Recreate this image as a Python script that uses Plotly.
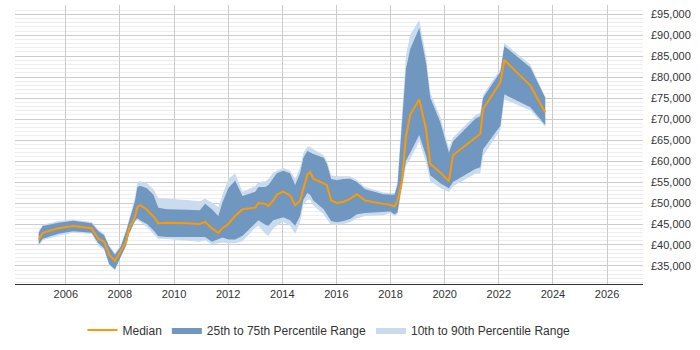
import plotly.graph_objects as go

dates = ["2005-01-01", "2005-02-24", "2005-09-24", "2006-04-12", "2006-12-16", "2007-03-17",
         "2007-06-02", "2007-08-11", "2007-10-27", "2008-01-12", "2008-03-25", "2008-05-04",
         "2008-07-23", "2008-08-25", "2008-10-01", "2009-01-01", "2009-03-29", "2009-06-03",
         "2009-09-24", "2010-06-20", "2010-12-16", "2011-02-24", "2011-05-27", "2011-08-22",
         "2011-10-16", "2012-01-05", "2012-04-05", "2012-07-13", "2013-01-01", "2013-02-14",
         "2013-05-16", "2013-06-28", "2013-09-02", "2013-10-19", "2014-01-15", "2014-04-16",
         "2014-06-24", "2014-08-29", "2014-10-13", "2014-12-06", "2015-01-12", "2015-02-24",
         "2015-07-13", "2015-08-25", "2015-10-23", "2016-01-08", "2016-04-05", "2016-07-05",
         "2016-10-05", "2017-01-23", "2017-09-27", "2017-12-28", "2018-02-24", "2018-04-05",
         "2018-06-03", "2018-07-28", "2018-09-24", "2019-01-23", "2019-04-27", "2019-06-21",
         "2019-11-03", "2020-02-28", "2020-04-23", "2021-02-17", "2021-04-27", "2021-06-03",
         "2022-01-23", "2022-03-17", "2023-03-03", "2023-09-20"]

median = [41300, 42900, 44000, 44500, 44000, 41500, 40800, 37700, 36200, 38500, 40800, 43900,
          46700, 49100, 49500, 48400, 46800, 45200, 45300, 45200, 45000, 45500, 44000, 42900,
          44000, 45000, 46900, 48500, 48900, 50000, 49800, 49300, 50600, 52000, 52700, 51800,
          49500, 50600, 53500, 56800, 57400, 55800, 54700, 54300, 50600, 50000, 50300, 51000,
          52100, 50600, 49800, 49600, 49200, 50600, 55000, 65800, 71100, 74700, 67400, 59300,
          57300, 55200, 61400, 65500, 66500, 72400, 78800, 84100, 78000, 71600]

p75 = [42900, 44500, 45300, 45800, 45200, 43300, 42300, 39600, 37700, 39600, 43200, 45800,
       50400, 53800, 54100, 53500, 52000, 48900, 48500, 48400, 48300, 49800, 48500, 46900,
       50100, 53600, 55300, 51700, 52700, 53800, 53800, 54300, 56100, 57100, 57700, 57100,
       54300, 57100, 60800, 62400, 62100, 61700, 60800, 59400, 55700, 55400, 55700, 55800,
       55000, 53300, 52100, 52000, 52000, 54300, 68200, 82000, 86700, 91700, 83200, 75100,
       69300, 62000, 64700, 70100, 70700, 75100, 81300, 87400, 82300, 75100]

p25 = [40200, 41500, 42700, 43300, 42900, 40400, 39200, 35400, 34200, 37300, 39900, 42700,
       45800, 46400, 45900, 45000, 43500, 42100, 41900, 41900, 41900, 41900, 40800, 41300,
       41800, 41300, 41300, 42200, 45200, 45900, 44800, 44600, 45900, 46200, 46600, 45900,
       44600, 46900, 50800, 52400, 52000, 50600, 48500, 47300, 45700, 45400, 45700, 46200,
       47300, 47600, 47800, 48000, 47300, 47800, 54300, 60100, 62000, 66200, 61200, 56600,
       54700, 53500, 55000, 58100, 58500, 62800, 68400, 75900, 72800, 68600]

p90 = [43400, 44800, 45700, 46000, 45500, 43700, 42700, 39900, 38100, 39900, 43600, 46200,
       51300, 55000, 55200, 54700, 53300, 51200, 51000, 50700, 50400, 51000, 50100, 49000,
       52000, 55700, 57100, 52700, 54000, 55000, 55200, 55700, 57300, 57700, 58400, 57700,
       55700, 58400, 61900, 63500, 63400, 62800, 61400, 60100, 56600, 56400, 56400, 56400,
       55400, 53800, 52500, 52400, 52400, 55400, 70500, 85100, 90100, 93600, 84800, 76300,
       70500, 63100, 65600, 70900, 71600, 75800, 82000, 88100, 83000, 75300]

p10 = [39700, 41100, 42200, 42900, 42600, 39800, 38800, 35100, 34000, 37200, 39700, 42500,
       45500, 45900, 45500, 44300, 42700, 41500, 41400, 41100, 40800, 41100, 40200, 40400,
       40600, 40400, 40400, 40900, 44100, 44600, 42700, 42200, 43900, 44600, 45500, 44600,
       42700, 45500, 49600, 50800, 50800, 49400, 47300, 46200, 44800, 44800, 45000, 45400,
       46400, 46900, 47100, 47600, 46900, 47300, 53100, 58900, 60500, 64700, 59600, 55200,
       53600, 52600, 54000, 57000, 57100, 61200, 67500, 74700, 72100, 68200]

LIGHT = "#c9dbed"
DARK = "#7097bf"
ORANGE = "#ff9900"

fig = go.Figure()
fig.add_trace(go.Scatter(x=dates, y=p10, mode="lines", line=dict(width=0, color=LIGHT),
                         showlegend=False, hoverinfo="skip"))
fig.add_trace(go.Scatter(x=dates, y=p90, mode="lines", line=dict(width=0, color=LIGHT),
                         fill="tonexty", fillcolor=LIGHT, name="10th to 90th Percentile Range",
                         legendrank=3))
fig.add_trace(go.Scatter(x=dates, y=p25, mode="lines", line=dict(width=0, color=DARK),
                         showlegend=False, hoverinfo="skip"))
fig.add_trace(go.Scatter(x=dates, y=p75, mode="lines", line=dict(width=0, color=DARK),
                         fill="tonexty", fillcolor=DARK, name="25th to 75th Percentile Range",
                         legendrank=2))
fig.add_trace(go.Scatter(x=dates, y=median, mode="lines", line=dict(width=2, color=ORANGE),
                         name="Median", legendrank=1))

fig.update_layout(
    width=700, height=350,
    margin=dict(l=15, r=57, t=5, b=58),
    paper_bgcolor="white", plot_bgcolor="white",
    font=dict(family="Liberation Sans, Arial, sans-serif", size=11, color="#333333"),
    legend=dict(orientation="h", x=0.5, xanchor="center", y=-0.165, yanchor="middle",
                font=dict(size=12, color="#333333"), traceorder="normal",
                itemwidth=30),
    showlegend=True,
)
fig.update_xaxes(
    type="date", range=["2004-02-16", "2027-05-01"],
    dtick="M24", tick0="2006-01-01", tickformat="%Y",
    showgrid=True, gridcolor="#cccccc", gridwidth=1,
    showline=True, linecolor="#333333", linewidth=1,
    ticks="", zeroline=False, tickfont=dict(size=11, color="#333333"),
)
fig.update_yaxes(
    range=[30700, 97200], side="right",
    dtick=5000, tick0=0, tickprefix="£", tickformat=",d",
    showgrid=True, gridcolor="#cccccc", gridwidth=1,
    minor=dict(dtick=1000, showgrid=True, gridcolor="#eeeeee", gridwidth=1),
    showline=False, zeroline=False, ticks="", ticklabelstandoff=7,
    tickfont=dict(size=11, color="#333333"),
)

fig.write_html("out.html")
